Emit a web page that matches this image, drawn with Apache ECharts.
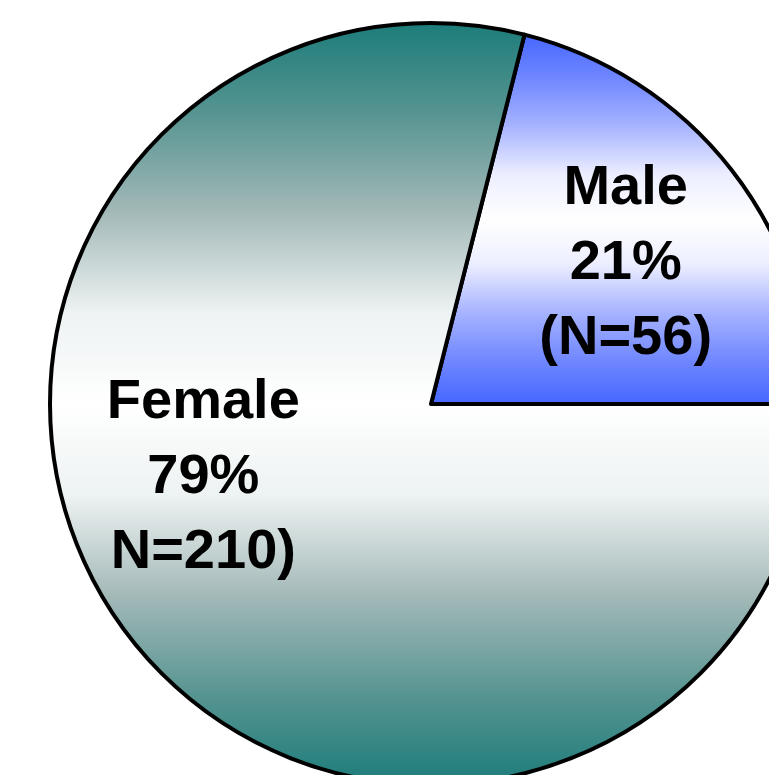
<!DOCTYPE html>
<html>
<head>
<meta charset="utf-8">
<script src="https://cdn.jsdelivr.net/npm/echarts@6/dist/echarts.min.js"></script>
<style>
html,body{margin:0;padding:0;background:#fff;}
#chart{width:769px;height:775px;}
</style>
</head>
<body>
<div id="chart"></div>
<script>
var categories = ['Male', 'Female'];
var counts = [56, 210];
var percentLabels = ['21%', '79%'];
var countLabels = ['(N=56)', 'N=210)'];

function grad(edge, q1, q2, q3) {
  return {
    type: 'linear', x: 0, y: 0, x2: 0, y2: 1,
    colorStops: [
      { offset: 0, color: edge },
      { offset: 0.12, color: q1 },
      { offset: 0.25, color: q2 },
      { offset: 0.38, color: q3 },
      { offset: 0.5, color: '#ffffff' },
      { offset: 0.62, color: q3 },
      { offset: 0.75, color: q2 },
      { offset: 0.88, color: q1 },
      { offset: 1, color: edge }
    ]
  };
}
var fills = [
  grad('#4466ff', '#6f86ff', '#a6b3ff', '#eceeff'),
  grad('#1b7c79', '#569491', '#a3b9b8', '#edf2f2')
];
var labelShift = [[42, -22], [-75, -45]];

var chart = echarts.init(document.getElementById('chart'));
chart.setOption({
  animation: false,
  backgroundColor: '#ffffff',
  series: [{
    type: 'pie',
    center: [431, 404],
    radius: [0, 381],
    startAngle: 75.8,
    clockwise: true,
    silent: true,
    itemStyle: { borderColor: '#000000', borderWidth: 4 },
    label: {
      show: true,
      position: 'inside',
      fontFamily: 'Liberation Sans, Arial, sans-serif',
      fontWeight: 'bold',
      fontSize: 56,
      lineHeight: 75,
      color: '#000000',
      align: 'center',
      formatter: function (p) {
        return categories[p.dataIndex] + '\n' + percentLabels[p.dataIndex] + '\n' + countLabels[p.dataIndex];
      }
    },
    labelLine: { show: false },
    labelLayout: function (params) {
      var s = labelShift[params.dataIndex];
      return { dx: s[0], dy: s[1] };
    },
    data: categories.map(function (c, i) {
      return { name: c, value: counts[i], itemStyle: { color: fills[i] } };
    })
  }]
});
</script>
</body>
</html>
